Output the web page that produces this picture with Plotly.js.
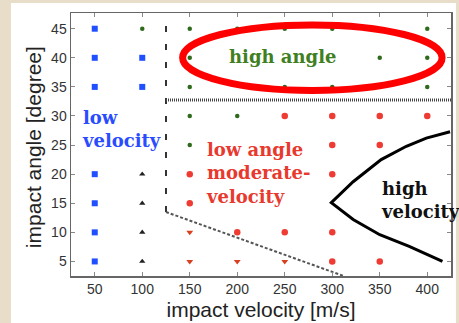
<!DOCTYPE html>
<html>
<head>
<meta charset="utf-8">
<script src="https://cdn.plot.ly/plotly-3.0.1.min.js"></script>
<style>html,body{margin:0;padding:0;background:#e8ddc8;}#chart{width:459px;height:323px;}</style>
</head>
<body>
<div id="chart"></div>
<script>
// ---- data ----
const xTicks = [50, 100, 150, 200, 250, 300, 350, 400];
const yTicks = [5, 10, 15, 20, 25, 30, 35, 40, 45];

// low velocity (blue squares)
const blueX = [50, 50, 50, 50, 50, 50, 50, 100, 100];
const blueY = [5, 10, 15, 20, 35, 40, 45, 35, 40];

// high angle (green dots)
const greenX = [100, 150, 150, 150, 150, 150, 200, 200, 250, 250, 300, 300, 350, 400, 400, 400];
const greenY = [45, 25, 30, 35, 40, 45, 30, 45, 35, 45, 35, 45, 40, 35, 40, 45];

// low angle moderate velocity (red circles)
const redX = [150, 150, 200, 250, 250, 300, 300, 300, 300, 300, 350, 350, 350, 400];
const redY = [15, 20, 10, 10, 30, 5, 10, 20, 25, 30, 5, 25, 30, 30];

// red down triangles
const redTriX = [150, 150, 200, 250];
const redTriY = [5, 10, 5, 5];

// black up triangles
const blackTriX = [100, 100, 100, 100];
const blackTriY = [5, 10, 15, 20];

// high velocity boundary curve
const curveX = [424, 399, 378, 351.5, 322, 299, 322, 350, 381, 416];
const curveY = [27.3, 26.2, 24.8, 22.5, 18.7, 15.1, 12.2, 9.6, 7.6, 5.0];

// regime boundary lines
const vertX = [125, 125];
const vertY = [13.5, 46];
const diagX = [125, 312];
const diagY = [13.5, 2.5];
const horizX = [125, 425];
const horizY = [32.75, 32.75];

// ---- traces ----
const traces = [
  {x: vertX, y: vertY, mode: 'lines', line: {color: '#333', width: 2, dash: '6px,12px'}, hoverinfo: 'skip'},
  {x: diagX, y: diagY, mode: 'lines', line: {color: '#555', width: 2, dash: '3px,2px'}, hoverinfo: 'skip'},
  {x: horizX, y: horizY, mode: 'lines', line: {color: '#444', width: 3, dash: '1px,1px'}, hoverinfo: 'skip'},
  {x: curveX, y: curveY, mode: 'lines', line: {color: '#000', width: 3}, hoverinfo: 'skip'},
  {x: blueX, y: blueY, mode: 'markers', marker: {symbol: 'square', size: 6, color: '#1f4fff'}},
  {x: greenX, y: greenY, mode: 'markers', marker: {symbol: 'circle', size: 4.5, color: '#2e6b1c'}},
  {x: redX, y: redY, mode: 'markers', marker: {symbol: 'circle', size: 6.5, color: '#ee3b33'}},
  {x: redTriX, y: redTriY, mode: 'markers', marker: {symbol: 'triangle-down', size: 6, color: '#d8401f'}},
  {x: blackTriX, y: blackTriY, mode: 'markers', marker: {symbol: 'triangle-up', size: 5.5, color: '#222'}}
];

const serif = 'DejaVu Serif';
const sans = 'Liberation Sans';
const layout = {
  width: 459, height: 323,
  margin: {l: 71, r: 8, t: 13, b: 47},
  paper_bgcolor: '#e8ddc8',
  plot_bgcolor: 'rgba(0,0,0,0)',
  showlegend: false,
  xaxis: {
    range: [25, 425], tickvals: xTicks, ticktext: xTicks.map(String),
    showgrid: false, zeroline: false,
    showline: true, linecolor: '#666', linewidth: 1.5, mirror: 'ticks',
    ticks: 'inside', ticklen: 4, tickcolor: '#888', tickwidth: 1,
    tickfont: {family: sans, size: 14, color: '#333'},
    title: {text: 'impact velocity [m/s]', font: {family: sans, size: 21, color: '#222'}, standoff: 6}
  },
  yaxis: {
    range: [2.5, 47.7], tickvals: yTicks, ticktext: yTicks.map(String),
    showgrid: false, zeroline: false,
    showline: true, linecolor: '#666', linewidth: 1.5, mirror: 'ticks',
    ticks: 'inside', ticklen: 4, tickcolor: '#888', tickwidth: 1,
    tickfont: {family: sans, size: 14, color: '#333'}
  },
  shapes: [
    {type: 'rect', xref: 'paper', yref: 'paper', x0: -0.158, x1: 1.013, y0: -0.2, y1: 1.038,
     fillcolor: '#ffffff', line: {width: 0}, layer: 'below'},
    {type: 'circle', xref: 'x', yref: 'y', x0: 142.5, x1: 415.6, y0: 34.4, y1: 45.65,
     line: {color: '#ff0000', width: 7}, layer: 'above'}
  ],
  annotations: [
    {x: -0.1, y: 0.49, xref: 'paper', yref: 'paper', xanchor: 'center', yanchor: 'middle', textangle: -90, showarrow: false,
     text: 'impact angle [degree]', font: {family: sans, size: 21, color: '#222'}},
    {x: 34.6, y: 27.7, xref: 'x', yref: 'y', xanchor: 'left', yanchor: 'middle', align: 'left', showarrow: false,
     text: 'low<br>velocity', font: {family: serif, size: 18, color: '#2a4cff', weight: 'bold'}},
    {x: 248, y: 40.2, xref: 'x', yref: 'y', xanchor: 'center', yanchor: 'middle', showarrow: false,
     text: 'high angle', font: {family: serif, size: 18, color: '#3f7f1f', weight: 'bold'}},
    {x: 164.5, y: 20.2, xref: 'x', yref: 'y', xanchor: 'left', yanchor: 'middle', align: 'left', showarrow: false,
     text: 'low angle<br>moderate-<br>velocity', font: {family: serif, size: 18, color: '#e8392e', weight: 'bold'}},
    {x: 349.7, y: 15.6, xref: 'x', yref: 'y', xanchor: 'left', yanchor: 'middle', align: 'left', showarrow: false,
     text: 'high<br>velocity', font: {family: serif, size: 18, color: '#111', weight: 'bold'}}
  ]
};

Plotly.newPlot('chart', traces, layout, {displayModeBar: false, staticPlot: true});
</script>
</body>
</html>
